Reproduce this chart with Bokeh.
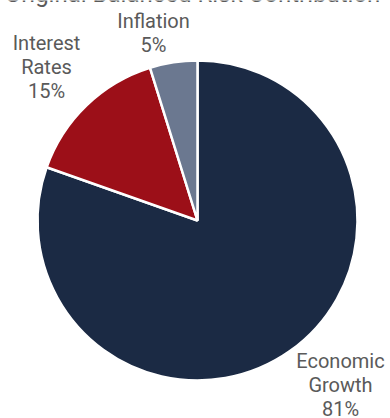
import numpy as np
from bokeh.plotting import figure
from bokeh.models import Range1d, ColumnDataSource
from bokeh.core.properties import value
from bokeh.embed import file_html
from bokeh.resources import INLINE

# Data
categories = ["Economic Growth", "Interest Rates", "Inflation"]
shares = [80.4, 14.8, 4.8]
label_texts = ["Economic\nGrowth\n81%", "Interest\nRates\n15%", "Inflation\n5%"]
colors = ["#1b2a44", "#9c0f18", "#6b7890"]
title_text = "Original Balanced Risk Contribution"

W, H = 390, 418
p = figure(width=W, height=H, output_backend="svg", toolbar_location=None,
           x_range=Range1d(0, W), y_range=Range1d(0, H), min_border=0)
p.axis.visible = False
p.grid.visible = False
p.outline_line_color = None
p.background_fill_color = "white"
p.border_fill_color = "white"

cx, cy, r = 197, H - 220, 160
fr = np.array(shares) / np.sum(shares)
cum = np.concatenate([[0], np.cumsum(fr)])
start = np.pi / 2 - 2 * np.pi * cum[:-1]
end = np.pi / 2 - 2 * np.pi * cum[1:]
src = ColumnDataSource(dict(x=[cx] * 3, y=[cy] * 3, start=start, end=end,
                            color=colors, cat=categories))
p.wedge(x="x", y="y", radius=r, start_angle="start", end_angle="end",
        direction="clock", fill_color="color", line_color="white",
        line_width=2.5, source=src)

# labels
lx = [340, 46, 153]
ly = [H - 384, H - 66, H - 32]
lsrc = ColumnDataSource(dict(x=lx, y=ly, t=label_texts))
p.text(x="x", y="y", text="t", source=lsrc, text_align="center",
       text_baseline="middle", text_font=value("Roboto"),
       text_font_size="20px", text_color="#5a5a5a", text_line_height=1.0)

# partly cropped title
p.text(x=[192], y=[H + 7], text=[title_text], text_align="center",
       text_baseline="middle", text_font=value("Roboto"),
       text_font_size="24px", text_color="#5a5a5a")

open("out.html", "w").write(file_html(p, INLINE))
